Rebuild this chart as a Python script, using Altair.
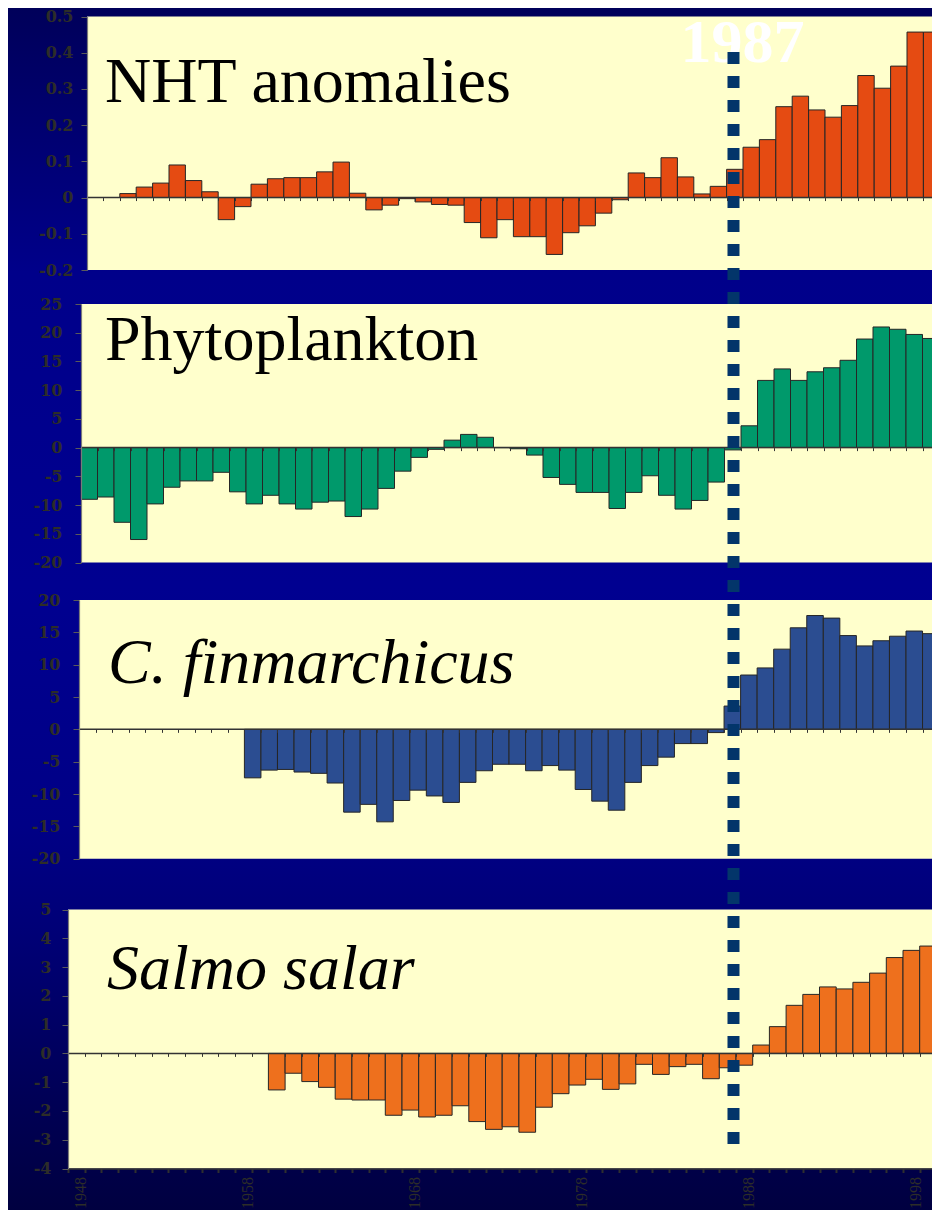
import altair as alt
import pandas as pd

# ---------------- data ----------------
YEAR_START, YEAR_END = 1948, 2001
years = list(range(1948, 2001))

nht = [None, None, 0.011, 0.029, 0.040, 0.090, 0.047, 0.016, -0.061, -0.025,
       0.037, 0.052, 0.055, 0.055, 0.071, 0.098, 0.012, -0.034, -0.021, -0.003,
       -0.012, -0.019, -0.021, -0.069, -0.111, -0.061, -0.108, -0.108, -0.157, -0.097,
       -0.078, -0.043, -0.006, 0.068, 0.055, 0.110, 0.057, 0.010, 0.031, 0.078,
       0.139, 0.160, 0.251, 0.280, 0.242, 0.222, 0.254, 0.337, 0.302, 0.363,
       0.457, 0.457, 0.445]

phyto = [-9.0, -8.6, -13.0, -16.0, -9.8, -6.9, -5.8, -5.8, -4.3, -7.7,
         -9.8, -8.3, -9.8, -10.7, -9.5, -9.3, -12.0, -10.7, -7.1, -4.1,
         -1.7, -0.3, 1.3, 2.3, 1.8, 0.0, -0.2, -1.3, -5.2, -6.4,
         -7.8, -7.8, -10.6, -7.8, -4.9, -8.3, -10.7, -9.2, -6.0, -0.4,
         3.8, 11.7, 13.7, 11.7, 13.2, 13.9, 15.2, 18.9, 21.0, 20.6,
         19.7, 19.0, 20.5]

cfin = [None] * 10 + [
        -7.5, -6.3, -6.2, -6.6, -6.8, -8.3, -12.8, -11.6, -14.3, -11.0,
        -9.4, -10.3, -11.3, -8.2, -6.4, -5.4, -5.4, -6.4, -5.6, -6.3,
        -9.3, -11.1, -12.5, -8.2, -5.6, -4.3, -2.2, -2.2, -0.5, 3.6,
        8.4, 9.5, 12.4, 15.7, 17.6, 17.2, 14.5, 12.9, 13.7, 14.4,
        15.2, 14.8, 15.0]

salmo = [None] * 12 + [
        -1.27, -0.69, -0.98, -1.18, -1.59, -1.62, -1.62, -2.15,
        -1.97, -2.21, -2.15, -1.82, -2.37, -2.64, -2.55, -2.74, -1.87, -1.40,
        -1.10, -0.90, -1.25, -1.06, -0.38, -0.73, -0.46, -0.38, -0.88, -0.50,
        -0.41, 0.29, 0.93, 1.67, 2.05, 2.31, 2.24, 2.47, 2.79, 3.33,
        3.58, 3.73, 3.44]

series = [nht, phyto, cfin, salmo]
titles = ["NHT anomalies", "Phytoplankton", "C. finmarchicus", "Salmo salar"]
title_italic = [False, False, True, True]
bar_colors = ["#E54B12", "#00996B", "#2B4D91", "#EE701D"]
y_domains = [(-0.2, 0.5), (-20, 25), (-20, 20), (-4, 5)]
y_ticks = [[round(-0.2 + 0.1 * k, 1) for k in range(8)],
           list(range(-20, 30, 5)),
           list(range(-20, 25, 5)),
           list(range(-4, 6))]
decade_labels = [1948, 1958, 1968, 1978, 1988, 1998]
regime_year = 1987
regime_label = "1987"

# ---------------- layout (page pixels) ----------------
W, H = 924, 1202
M = 8
layout = [
    dict(left=87, band=16.4, top=16.5, bottom=270, lab_pad=8, tx=105, ty=102),
    dict(left=81, band=16.5, top=304, bottom=562.5, lab_pad=13, tx=105, ty=360),
    dict(left=79, band=16.54, top=600, bottom=858.7, lab_pad=13, tx=108, ty=683),
    dict(left=68, band=16.7, top=909.5, bottom=1168.5, lab_pad=11, tx=107, ty=989),
]

AXIS_LABEL = "#2d2d28"


def scales(i):
    L = layout[i]
    ymin, ymax = y_domains[i]
    x0 = L["left"] - M
    x1 = x0 + L["band"] * (YEAR_END - YEAR_START)
    xs = alt.Scale(domain=[YEAR_START, YEAR_END], range=[x0, x1], nice=False, zero=False)
    ys = alt.Scale(domain=[ymin, ymax], range=[L["bottom"] - M, L["top"] - M],
                   nice=False, zero=False)
    return xs, ys


def make_panel(i):
    L = layout[i]
    ymin, ymax = y_domains[i]
    xs, ys = scales(i)
    x0 = L["left"] - M
    zero_px = (L["top"] - M) + (ymax / (ymax - ymin)) * (L["bottom"] - L["top"])

    if i == 0:
        lexpr = "datum.value == 0 ? '0' : (datum.value < 0 ? '-' : '') + format(abs(datum.value), '.1f')"
    else:
        lexpr = "(datum.value < 0 ? '-' : '') + format(abs(datum.value), 'd')"

    yaxis = alt.Axis(orient="left", offset=-x0, values=y_ticks[i], labelExpr=lexpr,
                     tickSize=6, tickColor="#5a5a5a", domainColor="#7a7a7a", domainWidth=1.2,
                     labelFont="DejaVu Serif", labelFontWeight="bold", labelFontSize=16,
                     labelColor=AXIS_LABEL, labelPadding=L["lab_pad"], grid=False, title=None,
                     labelOverlap=False, labelFlush=False, zindex=1)

    zero_axis = alt.Axis(orient="bottom", offset=zero_px - H, values=years, labels=False,
                         domain=False, tickSize=3, tickColor="#333333", tickWidth=1,
                         grid=False, title=None, zindex=1)

    # panel background through the panel's own scales
    cream_df = pd.DataFrame({"x": [YEAR_START], "x2": [YEAR_END], "y": [ymin], "y2": [ymax]})
    cream = alt.Chart(cream_df).mark_rect(color="#FFFFCC").encode(
        x=alt.X("x:Q", scale=xs, axis=None), x2="x2:Q",
        y=alt.Y("y:Q", scale=ys, axis=yaxis), y2="y2:Q")

    df = pd.DataFrame({"year": years, "value": series[i]}).dropna()
    df["year_end"] = df["year"] + 1
    df["base"] = 0.0

    if i == 3:
        bottom_axis = alt.Axis(orient="bottom", offset=(L["bottom"] - M) - H, values=years,
                               labelExpr="indexof(%s, datum.value) >= 0 ? datum.value + '' : ''"
                               % str(decade_labels),
                               labelAngle=270, labelAlign="right", labelBaseline="middle",
                               labelOffset=12.5, labelPadding=4, labelFont="Liberation Serif",
                               labelFontSize=16, labelColor=AXIS_LABEL, tickSize=4, tickWidth=2,
                               tickColor="#2f2f2f", domainColor="#333333", domainWidth=1.5,
                               labelOverlap=False, labelFlush=False, labelBound=False,
                               grid=False, title=None, zindex=1)
    else:
        bottom_axis = None

    bars = alt.Chart(df).mark_rect(color=bar_colors[i], stroke="#262626", strokeWidth=1).encode(
        x=alt.X("year:Q", scale=xs, axis=bottom_axis), x2="year_end:Q",
        y=alt.Y("value:Q", scale=ys, axis=yaxis), y2="base:Q")

    zero_df = pd.DataFrame({"x": [YEAR_START], "x2": [YEAR_END], "y": [0.0]})
    zero = alt.Chart(zero_df).mark_rule(color="#333333", strokeWidth=1.5).encode(
        x=alt.X("x:Q", scale=xs, axis=zero_axis), x2="x2:Q",
        y=alt.Y("y:Q", scale=ys, axis=yaxis))

    return alt.layer(cream, bars, zero).resolve_axis(x="independent")


# background gradient of the slide
bg = alt.Chart(alt.Data(values=[{}])).mark_rect(
    color=alt.LinearGradient(
        gradient="linear", x1=0, x2=0, y1=0, y2=1,
        stops=[alt.GradientStop(color="#00005A", offset=0),
               alt.GradientStop(color="#00008A", offset=0.22),
               alt.GradientStop(color="#000090", offset=0.48),
               alt.GradientStop(color="#000086", offset=0.68),
               alt.GradientStop(color="#000076", offset=0.77),
               alt.GradientStop(color="#000040", offset=1.0)])
).encode(x=alt.value(0), x2=alt.value(W), y=alt.value(0), y2=alt.value(H))

panels = [make_panel(i) for i in range(4)]

title_layers = []
for i, t in enumerate(titles):
    L = layout[i]
    title_layers.append(
        alt.Chart(alt.Data(values=[{}])).mark_text(
            text=t, font="Liberation Serif", fontSize=64,
            fontStyle="italic" if title_italic[i] else "normal",
            align="left", baseline="alphabetic", color="#000000"
        ).encode(x=alt.value(L["tx"] - M), y=alt.value(L["ty"] - M))
    )

year_text = alt.Chart(alt.Data(values=[{}])).mark_text(
    text=regime_label, font="Liberation Serif", fontSize=62, fontWeight="bold",
    align="center", baseline="alphabetic", color="#FFFFFF"
).encode(x=alt.value(742.5 - M), y=alt.value(62 - M))

xs4, _ = scales(3)
rule_df = pd.DataFrame({"year": [regime_year]})
regime_rule = alt.Chart(rule_df).transform_calculate(
    xpos="datum.year + 0.85"
).mark_rule(color="#03356A", strokeWidth=12, strokeDash=[12, 12], strokeCap="butt").encode(
    x=alt.X("xpos:Q", scale=xs4, axis=None),
    y=alt.value(52 - M), y2=alt.value(1144 - M))

chart = alt.layer(bg, *panels, *title_layers, year_text, regime_rule).resolve_scale(
    x="independent", y="independent"
).properties(
    width=W, height=H, padding=0,
    autosize=alt.AutoSizeParams(type="none"),
    background="#000060"
).configure_view(stroke=None)

chart.save("out.html", embed_options={"renderer": "svg", "actions": False})
